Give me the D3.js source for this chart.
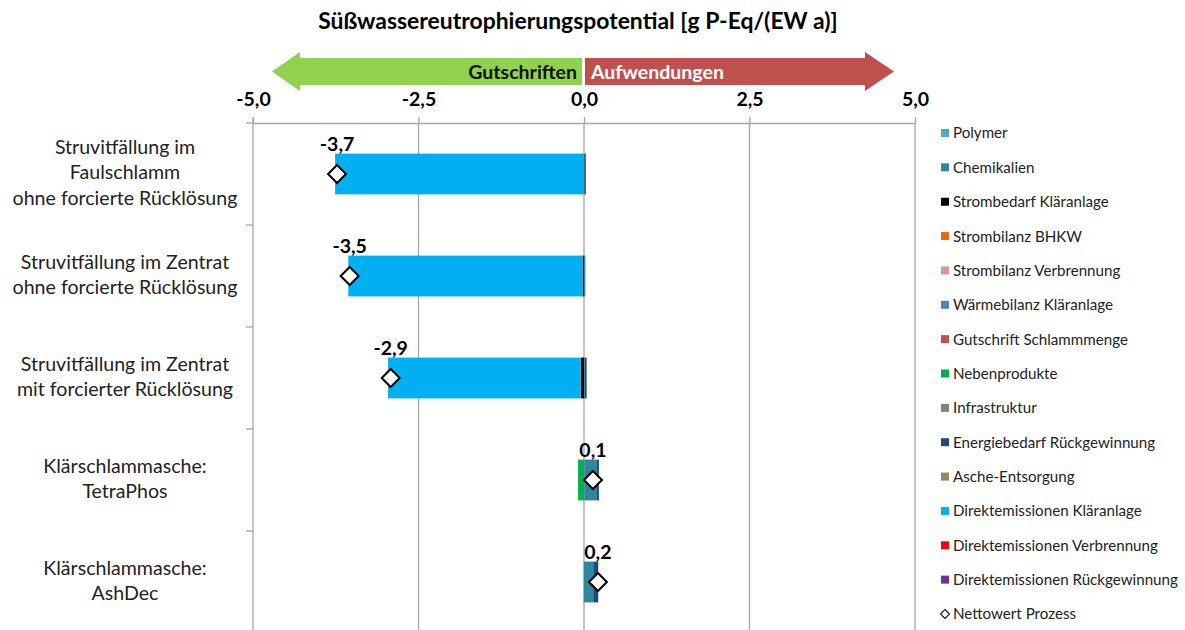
<!DOCTYPE html>
<html><head><meta charset="utf-8">
<script src="https://cdn.jsdelivr.net/npm/d3@7"></script>
<style>
html,body{margin:0;padding:0;background:#fff;}
svg{display:block;font-family:Lato,"Open Sans",sans-serif;}
</style></head>
<body>
<svg id="c" width="1185" height="630"></svg>
<script>
// ---------- data ----------
const categories = [
  "Struvitfällung im Faulschlamm ohne forcierte Rücklösung",
  "Struvitfällung im Zentrat ohne forcierte Rücklösung",
  "Struvitfällung im Zentrat mit forcierter Rücklösung",
  "Klärschlammasche: TetraPhos",
  "Klärschlammasche: AshDec"
];
const categoryLines = [
  ["Struvitfällung im", "Faulschlamm", "ohne forcierte Rücklösung"],
  ["Struvitfällung im Zentrat", "ohne forcierte Rücklösung"],
  ["Struvitfällung im Zentrat", "mit forcierter Rücklösung"],
  ["Klärschlammasche:", "TetraPhos"],
  ["Klärschlammasche:", "AshDec"]
];
const seriesNames = [
  "Polymer","Chemikalien","Strombedarf Kläranlage","Strombilanz BHKW",
  "Strombilanz Verbrennung","Wärmebilanz Kläranlage","Gutschrift Schlammmenge",
  "Nebenprodukte","Infrastruktur","Energiebedarf Rückgewinnung","Asche-Entsorgung",
  "Direktemissionen Kläranlage","Direktemissionen Verbrennung","Direktemissionen Rückgewinnung"
];
const seriesColors = [
  "#4BACC6","#31859C","#000000","#E46C0A","#D99694","#4F81BD","#C0504D",
  "#00B050","#7F7F7F","#1F497D","#948A54","#00B0F0","#FF0000","#7030A0"
];
// values per series, one per category
const polymer        = [0, 0, 0, 0.005, 0];
const chemikalien    = [0.01, 0.01, 0.01, 0.19, 0.14];
const strombedarf    = [0.01, -0.02, -0.05, 0, 0];
const strombhkw      = [0, 0, 0, 0, 0];
const stromverbr     = [0, 0, 0, 0, 0];
const waermebilanz   = [0, 0, 0, 0, 0];
const gutschrift     = [0, 0, 0, 0, 0];
const nebenprodukte  = [0, 0, 0, -0.09, 0];
const infrastruktur  = [0, 0, 0, 0, 0];
const energiebedarf  = [0.01, 0.01, 0.03, 0.03, 0.075];
const asche          = [0, 0, 0, 0, -0.005];
const direktKA       = [-3.76, -3.54, -2.91, 0, 0];
const direktVerbr    = [0, 0, 0, 0, 0];
const direktRueck    = [0, 0, 0, 0, 0];
const seriesValues = [polymer, chemikalien, strombedarf, strombhkw, stromverbr, waermebilanz,
  gutschrift, nebenprodukte, infrastruktur, energiebedarf, asche, direktKA, direktVerbr, direktRueck];
const xTicks = [-5, -2.5, 0, 2.5, 5];
const titleText = "Süßwassereutrophierungspotential [g P-Eq/(EW a)]";
const netLabel = "Nettowert Prozess";

// ---------- layout ----------
const svg = d3.select("#c");
const m = {left: 253, right: 915, top: 123, bottom: 633};
const x = d3.scaleLinear().domain([-5, 5]).range([m.left, m.right]);
const y = d3.scaleBand().domain(categories).range([m.top, m.bottom]).paddingInner(0.6).paddingOuter(0.3);
const fmt = v => (Math.round(v * 10) / 10).toFixed(1).replace(".", ",");

function fitSize(text, weight, targetW, base) {
  const t = svg.append("text").attr("font-size", base).attr("font-weight", weight).text(text);
  const w = t.node().getComputedTextLength();
  t.remove();
  return base * targetW / w;
}

// title
const tSize = fitSize(titleText, "bold", 520, 18);
svg.append("text").attr("x", 578).attr("y", 29).attr("text-anchor", "middle")
  .attr("font-weight", "bold").attr("font-size", tSize).attr("fill", "#000").text(titleText);

// arrows
const ay0 = 58, ay1 = 85, ah0 = 52, ah1 = 91, amid = 71.5;
svg.append("path").attr("fill", "#92D050")
  .attr("d", `M582,${ay0} L300,${ay0} L300,${ah0} L272,${amid} L300,${ah1} L300,${ay1} L582,${ay1} Z`);
svg.append("path").attr("fill", "#C0504D")
  .attr("d", `M585,${ay0} L865,${ay0} L865,${ah0} L894,${amid} L865,${ah1} L865,${ay1} L585,${ay1} Z`);
const aSize = fitSize("Aufwendungen", "bold", 133, 15);
svg.append("text").attr("x", 577).attr("y", 78.5).attr("text-anchor", "end")
  .attr("font-weight", "bold").attr("font-size", aSize).attr("fill", "#111").text("Gutschriften");
svg.append("text").attr("x", 591).attr("y", 78.5)
  .attr("font-weight", "bold").attr("font-size", aSize).attr("fill", "#fff").text("Aufwendungen");

// gridlines
svg.append("g").selectAll("line").data(xTicks.filter(d => d !== -5)).join("line")
  .attr("x1", d => x(d)).attr("x2", d => x(d)).attr("y1", m.top).attr("y2", 630)
  .attr("stroke", "#A6A6A6").attr("stroke-width", 1.3);

// top axis
const ax = svg.append("g").attr("transform", `translate(0,${m.top})`)
  .call(d3.axisTop(x).tickValues(xTicks).tickSize(6).tickSizeOuter(0).tickFormat(fmt));
ax.select(".domain").attr("stroke", "#A6A6A6").attr("stroke-width", 1.3);
ax.selectAll(".tick line").attr("stroke", "#A6A6A6").attr("stroke-width", 1.3);
ax.selectAll(".tick text").attr("font-family", "Lato").attr("font-weight", "bold")
  .attr("font-size", aSize).attr("fill", "#000").attr("y", -17);

// left axis (category boundaries)
svg.append("line").attr("x1", m.left).attr("x2", m.left).attr("y1", m.top - 6).attr("y2", 630)
  .attr("stroke", "#A6A6A6").attr("stroke-width", 1.3);
const bounds = d3.range(categories.length + 1).map(i => m.top + i * (m.bottom - m.top) / categories.length);
svg.append("g").selectAll("line").data(bounds).join("line")
  .attr("x1", m.left - 7).attr("x2", m.left).attr("y1", d => d).attr("y2", d => d)
  .attr("stroke", "#A6A6A6").attr("stroke-width", 1.3);

// category labels
const cSize = fitSize("ohne forcierte Rücklösung", "normal", 225, 17);
const lh = 25.7;
categoryLines.forEach((lines, i) => {
  const cy = y(categories[i]) + y.bandwidth() / 2 - 1.5;
  lines.forEach((ln, j) => {
    svg.append("text").attr("x", 125).attr("y", cy + (j - (lines.length - 1) / 2) * lh + cSize * 0.35)
      .attr("text-anchor", "middle").attr("font-size", cSize).attr("fill", "#222").text(ln);
  });
});

// stacked bars (positive to right, negative to left)
const segs = [];
categories.forEach((c, ci) => {
  let pos = 0, neg = 0;
  seriesValues.forEach((vals, si) => {
    const v = vals[ci];
    if (v > 0) { segs.push({c, si, x0: pos, x1: pos + v}); pos += v; }
    else if (v < 0) { segs.push({c, si, x0: neg + v, x1: neg}); neg += v; }
  });
});
svg.append("g").selectAll("rect").data(segs).join("rect")
  .attr("x", d => x(d.x0)).attr("width", d => Math.max(0, x(d.x1) - x(d.x0)))
  .attr("y", d => y(d.c)).attr("height", y.bandwidth())
  .attr("fill", d => seriesColors[d.si]);

// net values
const net = categories.map((c, ci) => d3.sum(seriesValues, s => s[ci]));
const dia = r => `M0,${-r} L${r},0 L0,${r} L${-r},0 Z`;
svg.append("g").selectAll("path").data(net).join("path")
  .attr("d", dia(9))
  .attr("transform", (d, i) => `translate(${x(d)},${y(categories[i]) + y.bandwidth() / 2})`)
  .attr("fill", "#fff").attr("stroke", "#000").attr("stroke-width", 2);
svg.append("g").selectAll("text").data(net).join("text")
  .attr("x", d => x(d)).attr("y", (d, i) => y(categories[i]) - 2.5)
  .attr("text-anchor", "middle").attr("font-weight", "bold").attr("font-size", aSize)
  .attr("fill", "#000").text(fmt);

// legend
const lSize = fitSize("Direktemissionen Rückgewinnung", "normal", 225, 14);
const legendItems = seriesNames.map((n, i) => ({n, col: seriesColors[i]})).concat([{n: netLabel, col: null}]);
const ly0 = 133, lstep = (614 - 133) / 14;
const lg = svg.append("g").selectAll("g").data(legendItems).join("g")
  .attr("transform", (d, i) => `translate(941,${ly0 + i * lstep})`);
lg.filter(d => d.col).append("rect").attr("x", 0).attr("y", -4).attr("width", 8).attr("height", 8)
  .attr("fill", d => d.col);
lg.filter(d => !d.col).append("path").attr("d", dia(4.5)).attr("transform", "translate(4,0)")
  .attr("fill", "#fff").attr("stroke", "#222").attr("stroke-width", 1.2);
lg.append("text").attr("x", 12).attr("y", lSize * 0.36).attr("font-size", lSize).attr("fill", "#222")
  .text(d => d.n);
</script>
</body></html>
